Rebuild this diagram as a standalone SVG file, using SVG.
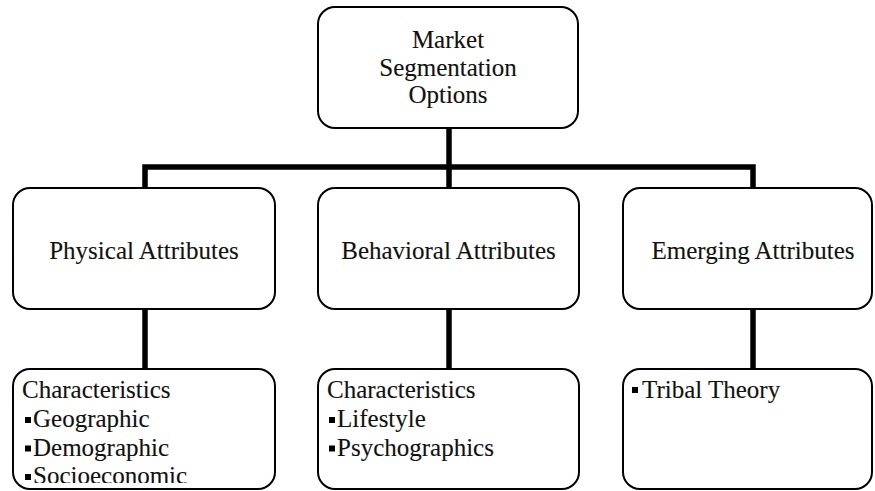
<svg xmlns="http://www.w3.org/2000/svg" width="875" height="491" viewBox="0 0 875 491">
  <style>
    .box { fill: #ffffff; stroke: #000000; stroke-width: 2; }
    .wire { fill: none; stroke: #000000; stroke-width: 5.5; stroke-linecap: butt; stroke-linejoin: miter; }
    text { font-family: "Liberation Serif", "Times New Roman", serif; font-size: 25px; fill: #111111; stroke: #111111; stroke-width: 0.12; }
    .mid { text-anchor: middle; }
    .bullet { fill: #000000; }
  </style>
  <defs>
    <clipPath id="clip-physical-list"><rect x="14" y="370" width="261" height="113"/></clipPath>
  </defs>
  <rect width="875" height="491" fill="#ffffff"/>

  <g id="connectors">
    <path class="wire" d="M449,128 V188"/>
    <path class="wire" d="M145,188 V167 H753 V188"/>
    <path class="wire" d="M145,309 V370"/>
    <path class="wire" d="M449,309 V370"/>
    <path class="wire" d="M753,309 V370"/>
  </g>

  <g id="market-segmentation-options">
    <rect class="box" x="318" y="7" width="260" height="121" rx="17"/>
    <text class="mid" x="448" y="48">Market</text>
    <text class="mid" x="448" y="75.5">Segmentation</text>
    <text class="mid" x="448" y="103">Options</text>
  </g>

  <g id="physical-attributes">
    <rect class="box" x="13" y="188" width="262" height="121" rx="17"/>
    <text class="mid" x="144" y="259">Physical Attributes</text>
  </g>

  <g id="behavioral-attributes">
    <rect class="box" x="318" y="188" width="261" height="121" rx="17"/>
    <text class="mid" x="448.5" y="259">Behavioral Attributes</text>
  </g>

  <g id="emerging-attributes">
    <rect class="box" x="623" y="188" width="249" height="121" rx="17"/>
    <text class="mid" x="753" y="259">Emerging Attributes</text>
  </g>

  <g id="physical-characteristics">
    <rect class="box" x="13" y="369" width="262" height="120" rx="17"/>
    <g clip-path="url(#clip-physical-list)">
      <text x="22" y="398">Characteristics</text>
      <rect class="bullet" x="25" y="417" width="6" height="6"/>
      <text x="33" y="427">Geographic</text>
      <rect class="bullet" x="25" y="445.5" width="6" height="6"/>
      <text x="33" y="455.5">Demographic</text>
      <rect class="bullet" x="25" y="474" width="6" height="6"/>
      <text x="33" y="484">Socioeconomic</text>
    </g>
  </g>

  <g id="behavioral-characteristics">
    <rect class="box" x="318" y="369" width="261" height="120" rx="17"/>
    <text x="327" y="398">Characteristics</text>
    <rect class="bullet" x="329" y="417" width="6" height="6"/>
    <text x="337" y="427">Lifestyle</text>
    <rect class="bullet" x="329" y="445.5" width="6" height="6"/>
    <text x="337" y="455.5">Psychographics</text>
  </g>

  <g id="emerging-characteristics">
    <rect class="box" x="623" y="369" width="249" height="120" rx="17"/>
    <rect class="bullet" x="632" y="387" width="6" height="6"/>
    <text x="642" y="398">Tribal Theory</text>
  </g>
</svg>
